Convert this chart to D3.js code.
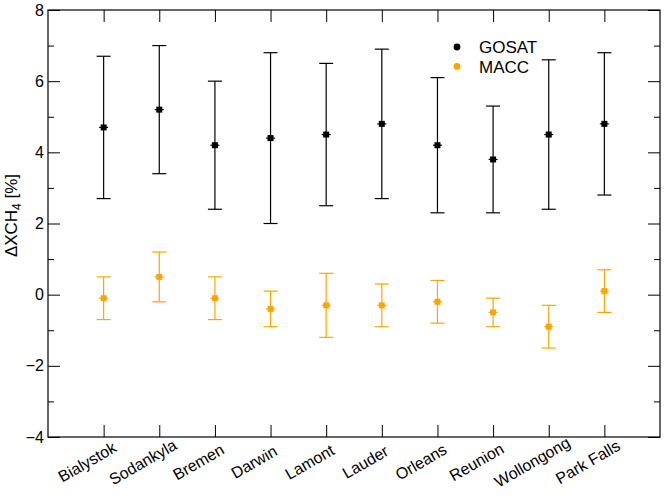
<!DOCTYPE html>
<html>
<head>
<meta charset="utf-8">
<script src="https://cdn.jsdelivr.net/npm/d3@7"></script>
<style>
    body { margin: 0; background: #fff; }
    svg { font-family: "Liberation Sans", Arial, Helvetica, sans-serif; }
</style>
</head>
<body>
<div id="chart"></div>
<script>

const stations = ["Bialystok", "Sodankyla", "Bremen", "Darwin", "Lamont", "Lauder", "Orleans", "Reunion", "Wollongong", "Park Falls"];

const gosatMean = [4.7, 5.2, 4.2, 4.4, 4.5, 4.8, 4.2, 3.8, 4.5, 4.8];
const gosatLow  = [2.7, 3.4, 2.4, 2.0, 2.5, 2.7, 2.3, 2.3, 2.4, 2.8];
const gosatHigh = [6.7, 7.0, 6.0, 6.8, 6.5, 6.9, 6.1, 5.3, 6.6, 6.8];

const maccMean = [-0.1, 0.5, -0.1, -0.4, -0.3, -0.3, -0.2, -0.5, -0.9, 0.1];
const maccLow  = [-0.7, -0.2, -0.7, -0.9, -1.2, -0.9, -0.8, -0.9, -1.5, -0.5];
const maccHigh = [0.5, 1.2, 0.5, 0.1, 0.6, 0.3, 0.4, -0.1, -0.3, 0.7];

const yTicks = [-4, -2, 0, 2, 4, 6, 8];
const yMinorTicks = [-3, -1, 1, 3, 5, 7];

const seriesNames = ["GOSAT", "MACC"];
const seriesColors = ["#000000", "#ffa500"];


const margin = {top: 10, right: 8, bottom: 63, left: 48},
    width = 668 - margin.left - margin.right,
    height = 500 - margin.top - margin.bottom;

const svg = d3.select("#chart")
    .append("svg")
    .attr("width", width + margin.left + margin.right)
    .attr("height", height + margin.top + margin.bottom)
    .append("g")
    .attr("transform", `translate(${margin.left},${margin.top})`);

const x = d3.scaleLinear()
    .domain([0, stations.length + 1])
    .range([0, width]);

const y = d3.scaleLinear()
    .domain([-4, 8])
    .range([height, 0]);

const xIdx = stations.map((s, i) => i + 1);

// axes, all ticks pointing inward
svg.append("g")
    .call(d3.axisLeft(y).tickValues(yTicks).tickSize(-12).tickPadding(4))
    .call(g => g.select(".domain").remove())
    .attr("font-family", null)
    .attr("font-size", 16);
svg.append("g")
    .call(d3.axisLeft(y).tickValues(yMinorTicks).tickSize(-6).tickFormat(""))
    .call(g => g.select(".domain").remove());
svg.append("g")
    .attr("transform", `translate(${width},0)`)
    .call(d3.axisRight(y).tickValues(yTicks).tickSize(-12).tickFormat(""))
    .call(g => g.select(".domain").remove());
svg.append("g")
    .attr("transform", `translate(${width},0)`)
    .call(d3.axisRight(y).tickValues(yMinorTicks).tickSize(-6).tickFormat(""))
    .call(g => g.select(".domain").remove());

svg.append("g")
    .attr("transform", `translate(0,${height})`)
    .call(d3.axisBottom(x).tickValues(xIdx).tickSize(-12).tickFormat(i => stations[i - 1]))
    .call(g => g.select(".domain").remove())
    .attr("font-family", null)
    .attr("font-size", 16)
    .selectAll("text")
    .attr("x", 0)
    .attr("y", 0)
    .attr("dy", "0.35em")
    .attr("transform", "translate(-17,25)rotate(-30)")
    .style("text-anchor", "middle");
svg.append("g")
    .call(d3.axisTop(x).tickValues(xIdx).tickSize(-12).tickFormat(""))
    .call(g => g.select(".domain").remove());

svg.selectAll(".tick line").attr("stroke", "#000");
svg.selectAll(".tick text").attr("fill", "#000");

svg.append("rect")
    .attr("width", width)
    .attr("height", height)
    .attr("fill", "none")
    .attr("stroke", "#000")
    .attr("stroke-width", 1.2);

// y label
const yLab = svg.append("text")
    .attr("transform", `translate(-31,${height / 2 - 8})rotate(-90)`)
    .attr("text-anchor", "middle")
    .style("font-size", "17px");
yLab.append("tspan").text("\u0394XCH");
yLab.append("tspan").attr("dy", 4).style("font-size", "12px").text("4");
yLab.append("tspan").attr("dy", -4).text(" [%]");

// error bars
function errorSeries(mean, low, high, color) {
    const data = mean.map((m, i) => ({i: i + 1, m: m, lo: low[i], hi: high[i]}));
    const g = svg.append("g")
        .attr("stroke", color)
        .attr("fill", color);
    const grp = g.selectAll("g")
        .data(data)
        .join("g");
    grp.append("line")
        .attr("x1", d => x(d.i)).attr("x2", d => x(d.i))
        .attr("y1", d => y(d.lo)).attr("y2", d => y(d.hi))
        .attr("stroke-width", 1.2);
    grp.append("line")
        .attr("x1", d => x(d.i) - 7).attr("x2", d => x(d.i) + 7)
        .attr("y1", d => y(d.lo)).attr("y2", d => y(d.lo))
        .attr("stroke-width", 1.2);
    grp.append("line")
        .attr("x1", d => x(d.i) - 7).attr("x2", d => x(d.i) + 7)
        .attr("y1", d => y(d.hi)).attr("y2", d => y(d.hi))
        .attr("stroke-width", 1.2);
    grp.append("line")
        .attr("x1", d => x(d.i) - 4.5).attr("x2", d => x(d.i) + 4.5)
        .attr("y1", d => y(d.m)).attr("y2", d => y(d.m))
        .attr("stroke-width", 1.2);
    grp.append("rect")
        .attr("x", d => x(d.i) - 3)
        .attr("y", d => y(d.m) - 3)
        .attr("width", 6)
        .attr("height", 6)
        .attr("stroke", "none");
}

errorSeries(gosatMean, gosatLow, gosatHigh, seriesColors[0]);
errorSeries(maccMean, maccLow, maccHigh, seriesColors[1]);

// legend
const legend = svg.append("g")
    .attr("transform", "translate(409,37)");
seriesNames.forEach((name, k) => {
    legend.append("circle")
        .attr("cx", 0)
        .attr("cy", k * 19.4)
        .attr("r", 3.4)
        .attr("fill", seriesColors[k]);
    legend.append("text")
        .attr("x", 22)
        .attr("y", k * 19.4)
        .attr("dy", "0.36em")
        .style("font-size", "17px")
        .text(name);
});

svg.node();
</script>
</body>
</html>
